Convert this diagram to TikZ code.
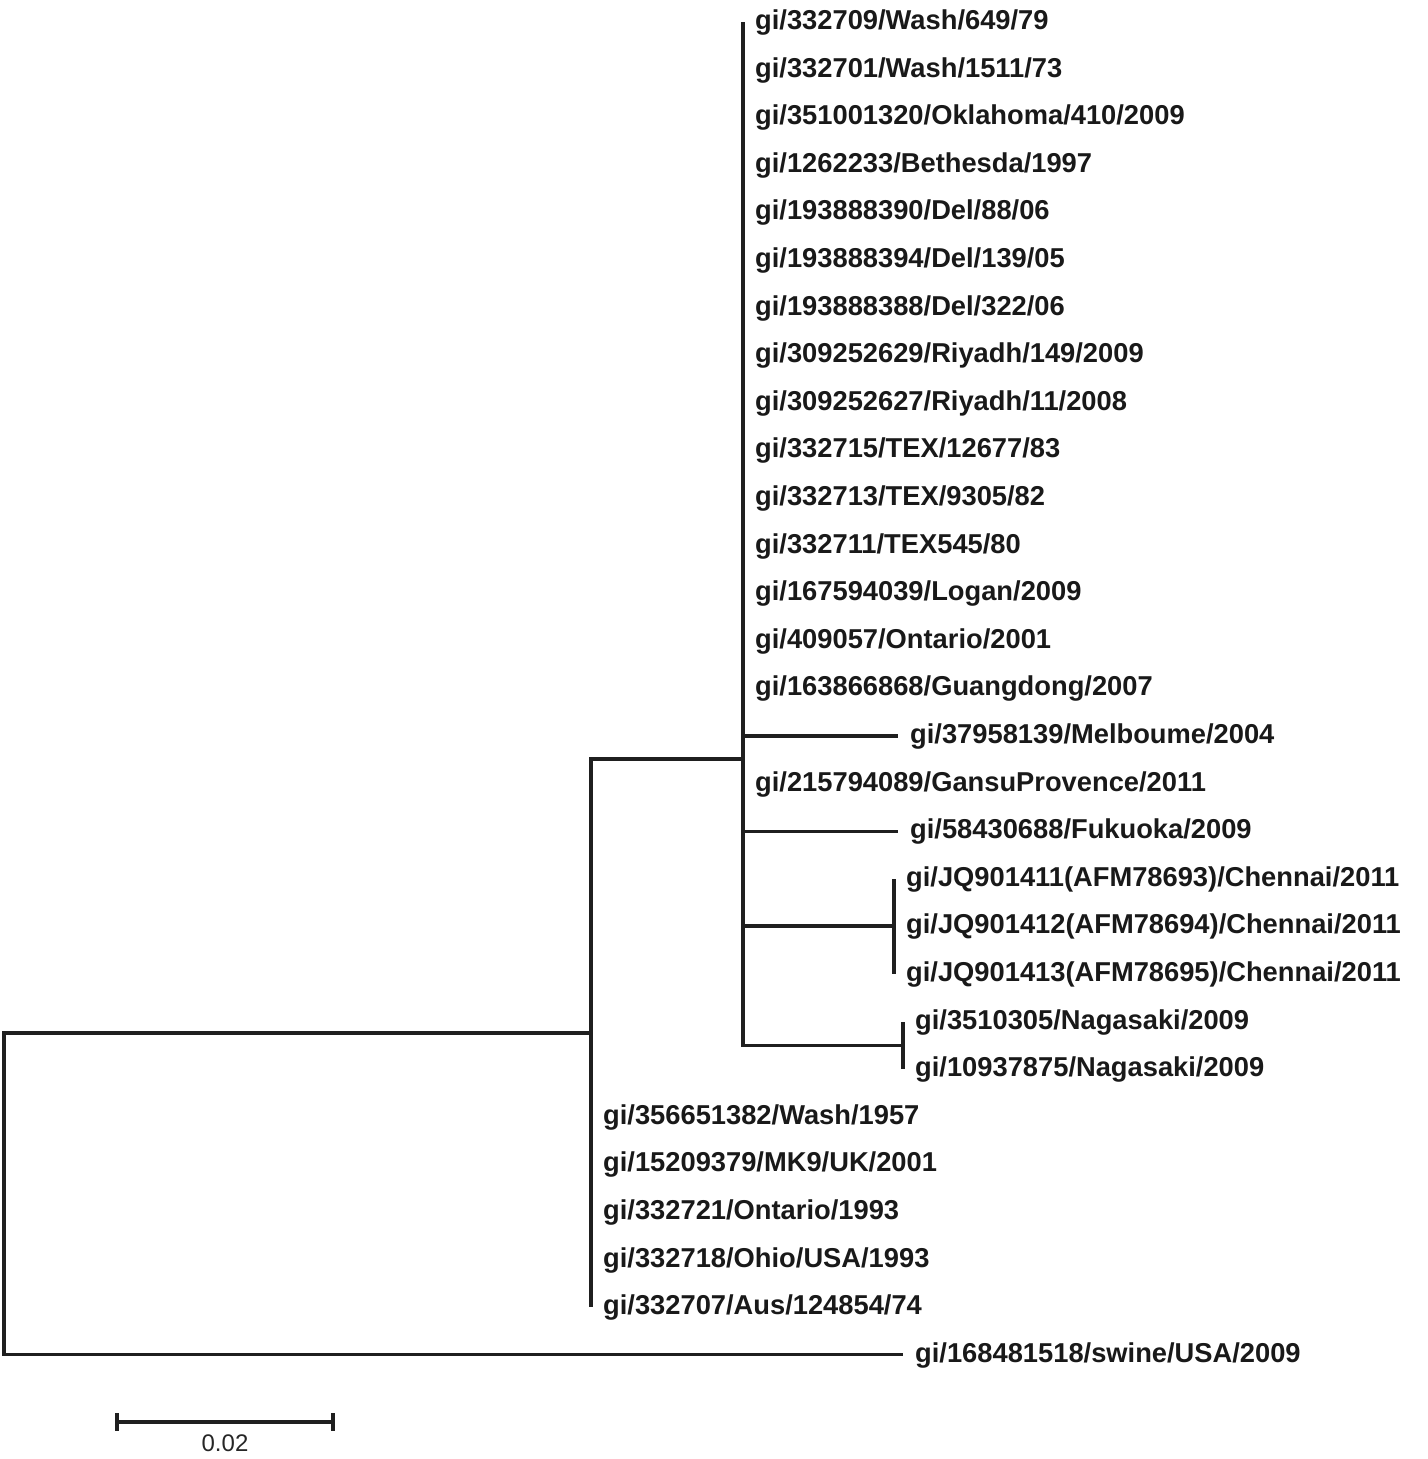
\documentclass[tikz,border=0pt]{standalone}
\usepackage{fontspec}
\setmainfont{Liberation Sans}
\begin{document}
\begin{tikzpicture}[x=1pt,y=-1pt,
  branch/.style={line width=3.2pt, line join=miter, color=black!88},
  leaflbl/.style={anchor=base west, inner sep=0pt, text=black!90, font=\bfseries\fontsize{27.3}{30}\selectfont, xshift=12pt, yshift=-7.5pt},
  scalelbl/.style={inner sep=0pt, text=black!85, font=\fontsize{24}{26}\selectfont}]
\useasboundingbox (0,0) rectangle (1427,1459);
% internal nodes
\coordinate (R) at (4,1194);
\coordinate (B) at (591,1033);
\coordinate (A) at (743,759);
\coordinate (C) at (894,926);
\coordinate (N) at (903,1045.5);
% leaves
\foreach \i/\x/\t in {
  0/743/{gi/332709/Wash/649/79},
  1/743/{gi/332701/Wash/1511/73},
  2/743/{gi/351001320/Oklahoma/410/2009},
  3/743/{gi/1262233/Bethesda/1997},
  4/743/{gi/193888390/Del/88/06},
  5/743/{gi/193888394/Del/139/05},
  6/743/{gi/193888388/Del/322/06},
  7/743/{gi/309252629/Riyadh/149/2009},
  8/743/{gi/309252627/Riyadh/11/2008},
  9/743/{gi/332715/TEX/12677/83},
  10/743/{gi/332713/TEX/9305/82},
  11/743/{gi/332711/TEX545/80},
  12/743/{gi/167594039/Logan/2009},
  13/743/{gi/409057/Ontario/2001},
  14/743/{gi/163866868/Guangdong/2007},
  15/898/{gi/37958139/Melboume/2004},
  16/743/{gi/215794089/GansuProvence/2011},
  17/898/{gi/58430688/Fukuoka/2009},
  18/894/{gi/JQ901411(AFM78693)/Chennai/2011},
  19/894/{gi/JQ901412(AFM78694)/Chennai/2011},
  20/894/{gi/JQ901413(AFM78695)/Chennai/2011},
  21/903/{gi/3510305/Nagasaki/2009},
  22/903/{gi/10937875/Nagasaki/2009},
  23/591/{gi/356651382/Wash/1957},
  24/591/{gi/15209379/MK9/UK/2001},
  25/591/{gi/332721/Ontario/1993},
  26/591/{gi/332718/Ohio/USA/1993},
  27/591/{gi/332707/Aus/124854/74},
  28/903/{gi/168481518/swine/USA/2009}} {
  \pgfmathsetmacro\yy{22+47.6*\i}
  \coordinate (t\i) at (\x,\yy);
  \node[leaflbl] (l\i) at (t\i) {\t};
}
% edges
\draw[branch] (R) |- (B);
\draw[branch] (R) |- (t28);
\draw[branch] (B) |- (A);
\foreach \i in {23,...,27} {\draw[branch] (B) |- (t\i);}
\foreach \i in {0,...,17} {\draw[branch] (A) |- (t\i);}
\draw[branch] (A) |- (C);
\draw[branch] (A) |- (N);
\foreach \i in {18,19,20} {\draw[branch] (C) |- (t\i);}
\foreach \i in {21,22} {\draw[branch] (N) |- (t\i);}
% scale bar
\coordinate (sbL) at (117,1422);
\coordinate (sbR) at (333,1422);
\draw[branch] (sbL) -- (sbR);
\draw[branch] ([yshift=9pt]sbL) -- ([yshift=-9pt]sbL);
\draw[branch] ([yshift=9pt]sbR) -- ([yshift=-9pt]sbR);
\node[scalelbl] (sblbl) at (225,1443) {0.02};
\end{tikzpicture}
\end{document}
